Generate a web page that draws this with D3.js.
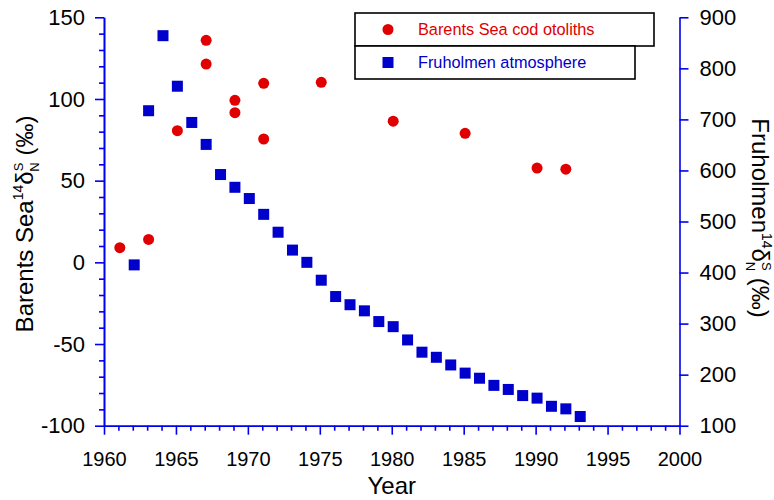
<!DOCTYPE html>
<html>
<head>
<meta charset="utf-8">
<script src="https://cdn.jsdelivr.net/npm/d3@7"></script>
<style>
  body { margin: 0; background: #fff; }
  svg { display: block; font-family: "Liberation Sans", Arial, sans-serif; }
</style>
</head>
<body>
<svg id="chart" width="774" height="500"></svg>
<script>
// Barents Sea cod otoliths (left axis)
const codYears  = [1961.1, 1963.1, 1965.1, 1967.1, 1967.1, 1969.1, 1969.1, 1971.1, 1971.1, 1975.1, 1980.1, 1985.1, 1990.1, 1992.1];
const codValues = [9, 14, 80.6, 135.9, 121.4, 99.2, 91.6, 109.6, 75.5, 110.2, 86.4, 79, 57.7, 57];

// Fruholmen atmosphere (right axis)
const atmYears  = [1962.1, 1963.1, 1964.1, 1965.1, 1966.1, 1967.1, 1968.1, 1969.1, 1970.1, 1971.1, 1972.1, 1973.1, 1974.1, 1975.1, 1976.1, 1977.1, 1978.1, 1979.1, 1980.1, 1981.1, 1982.1, 1983.1, 1984.1, 1985.1, 1986.1, 1987.1, 1988.1, 1989.1, 1990.1, 1991.1, 1992.1, 1993.1];
const atmValues = [415, 717, 864, 765, 694, 651, 592, 567, 545, 514, 479, 444, 420, 385, 353, 337, 325, 304, 294, 268, 244, 234, 219, 203, 193, 179, 171, 159, 154, 138, 133, 118];

const xTicks = [1960, 1965, 1970, 1975, 1980, 1985, 1990, 1995, 2000];
const leftTicks = [-100, -50, 0, 50, 100, 150];
const rightTicks = [100, 200, 300, 400, 500, 600, 700, 800, 900];
const legendLabels = ["Barents Sea cod otoliths", "Fruholmen atmosphere"];

const RED = "#e00000", BLUE = "#0000cc", AXIS = "#0000ee";
const svg = d3.select("#chart");
const L = 104, R = 679.5, T = 17.3, B = 425.7;

const x = d3.scaleLinear().domain([1960, 2000]).range([L, R]);
const yL = d3.scaleLinear().domain([-100, 150]).range([B, T]);
const yR = d3.scaleLinear().domain([100, 900]).range([B, T]);

function styleAxis(size) {
  return g => {
    g.selectAll("path.domain").attr("stroke", AXIS).attr("stroke-width", 1.6);
    g.selectAll(".tick line").attr("stroke", AXIS).attr("stroke-width", 1.6);
    g.selectAll(".tick text").attr("fill", "#000").style("font-size", size + "px")
      .style("font-family", '"Liberation Sans", Arial, sans-serif');
  };
}
const plain = d => String(d);

// minor ticks
const xMinor = d3.range(1960, 2001).filter(v => v % 5 !== 0);
const yMinor = d3.range(-100, 151, 10).filter(v => v % 50 !== 0);

svg.append("g").attr("transform", `translate(0,${B})`)
  .call(d3.axisBottom(x).tickValues(xMinor).tickSize(5).tickSizeOuter(0).tickFormat(""))
  .call(styleAxis(20));
svg.append("g").attr("transform", `translate(0,${B})`)
  .call(d3.axisBottom(x).tickValues(xTicks).tickSize(9).tickSizeOuter(0).tickPadding(17).tickFormat(plain))
  .call(styleAxis(20));

svg.append("g").attr("transform", `translate(${L},0)`)
  .call(d3.axisLeft(yL).tickValues(yMinor).tickSize(5).tickSizeOuter(0).tickFormat(""))
  .call(styleAxis(22));
svg.append("g").attr("transform", `translate(${L},0)`)
  .call(d3.axisLeft(yL).tickValues(leftTicks).tickSize(9).tickSizeOuter(0).tickPadding(10).tickFormat(plain))
  .call(styleAxis(22));

svg.append("g").attr("transform", `translate(${R},0)`)
  .call(d3.axisRight(yR).tickValues(rightTicks).tickSize(9).tickSizeOuter(0).tickPadding(11).tickFormat(plain))
  .call(styleAxis(22));

// axis titles
svg.append("text").attr("x", (L + R) / 2).attr("y", 494).attr("text-anchor", "middle")
  .style("font-size", "24px").text("Year");

function addTitle(tx, ty, rot, name) {
  const t = svg.append("text").attr("transform", `translate(${tx},${ty}) rotate(${rot})`)
    .attr("text-anchor", "middle").style("font-size", "24px");
  t.append("tspan").text(name);
  t.append("tspan").attr("dy", -10).style("font-size", "14px").text("14");
  t.append("tspan").attr("dy", 10).text("δ");
  t.append("tspan").attr("dy", -10).style("font-size", "13px").text("S");
  t.append("tspan").attr("dx", -9).attr("dy", 16).style("font-size", "13px").text("N");
  t.append("tspan").attr("dy", -6).text(" (‰)");
}
addTitle(33, 224, -90, "Barents Sea");
addTitle(752, 218, 90, "Fruholmen");

// data marks
svg.append("g").selectAll("circle").data(codYears.map((d, i) => [d, codValues[i]]))
  .join("circle")
  .attr("cx", d => x(d[0])).attr("cy", d => yL(d[1])).attr("r", 5.5).attr("fill", RED);

const S = 11;
svg.append("g").selectAll("rect").data(atmYears.map((d, i) => [d, atmValues[i]]))
  .join("rect")
  .attr("x", d => x(d[0]) - S / 2).attr("y", d => yR(d[1]) - S / 2)
  .attr("width", S).attr("height", S).attr("fill", BLUE);

// legend
const lg = svg.append("g");
lg.append("rect").attr("x", 355).attr("y", 13).attr("width", 299).attr("height", 33)
  .attr("fill", "#fff").attr("stroke", "#000").attr("stroke-width", 1.6);
lg.append("rect").attr("x", 355).attr("y", 46).attr("width", 280).attr("height", 33)
  .attr("fill", "#fff").attr("stroke", "#000").attr("stroke-width", 1.6);
lg.append("circle").attr("cx", 388).attr("cy", 29.5).attr("r", 5.5).attr("fill", RED);
lg.append("rect").attr("x", 388 - 5.5).attr("y", 62.5 - 5.5).attr("width", 11).attr("height", 11).attr("fill", BLUE);
lg.append("text").attr("x", 418).attr("y", 35).style("font-size", "16.3px").attr("fill", RED).text(legendLabels[0]);
lg.append("text").attr("x", 418).attr("y", 68).style("font-size", "16.3px").attr("fill", BLUE).text(legendLabels[1]);
</script>
</body>
</html>
